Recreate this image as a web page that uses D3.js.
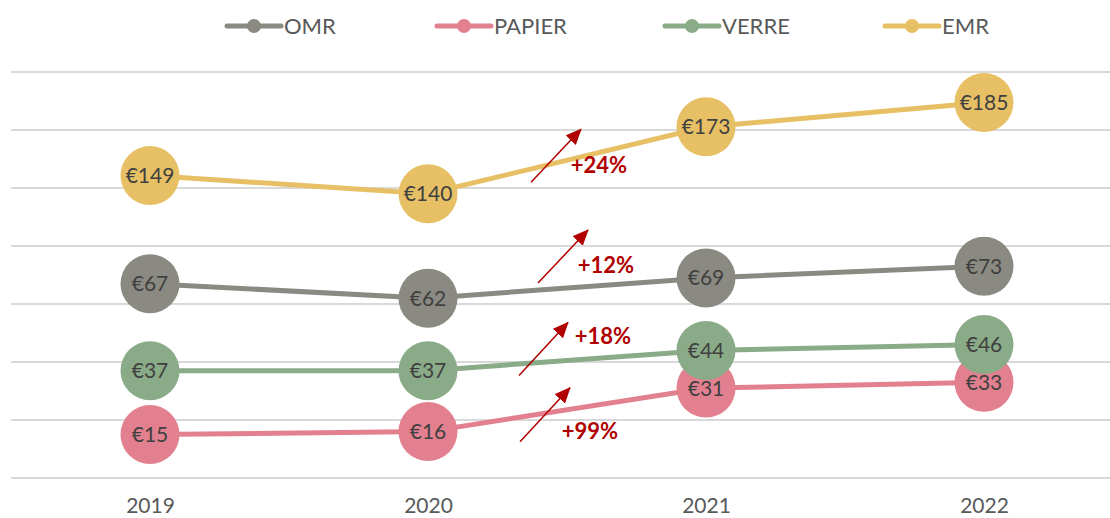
<!DOCTYPE html>
<html lang="fr">
<head>
<meta charset="UTF-8">
<title>Coût par habitant</title>
<script src="https://cdn.jsdelivr.net/npm/d3@7"></script>
<style>
  body { margin: 0; background: #fff; }
  svg { display: block; font-family: Lato, "Open Sans", sans-serif; }
</style>
</head>
<body>
<div id="chart"></div>
<script>

// data
var years = ["2019", "2020", "2021", "2022"];
var seriesNames = ["OMR", "PAPIER", "VERRE", "EMR"];
var omr = [67, 62, 69, 73];
var papier = [15, 16, 31, 33];
var verre = [37, 37, 44, 46];
var emr = [149, 140, 173, 185];   // EMR sits on the (hidden) secondary axis
var gridTicks = [0, 20, 40, 60, 80, 100, 120, 140];
var growthLabels = ["+24%", "+12%", "+18%", "+99%"];
var growthSeries = ["EMR", "OMR", "VERRE", "PAPIER"];

var w = 1110, h = 518;
var colors = { OMR: "#8a8a82", PAPIER: "#e3808f", VERRE: "#8aab88", EMR: "#e7c065" };
var values = { OMR: omr, PAPIER: papier, VERRE: verre, EMR: emr };

var svg = d3.select("#chart").append("svg")
  .attr("width", w)
  .attr("height", h);

// scales
var x = d3.scalePoint().domain(years).range([11, 1123]).padding(0.5);
var y = d3.scaleLinear().domain([0, 140]).range([478, 72]);
var y2 = d3.scaleLinear().domain([0, 200]).range([478, 72]);
function yFor(name) { return name === "EMR" ? y2 : y; }

// gridlines
svg.append("g").selectAll("line")
  .data(gridTicks)
  .enter().append("line")
  .attr("x1", 11).attr("x2", 1123)
  .attr("y1", function(d) { return y(d); })
  .attr("y2", function(d) { return y(d); })
  .attr("stroke", "#d9d9d9")
  .attr("stroke-width", 2);

// x axis labels
var xAxis = d3.axisBottom(x).tickSize(0).tickPadding(0);
var gx = svg.append("g").attr("transform", "translate(0,498)").call(xAxis);
gx.select(".domain").remove();
gx.selectAll("text")
  .attr("font-size", 21)
  .attr("fill", "#595959")
  .attr("font-family", "Lato, sans-serif")
  .attr("dy", "0.35em")
  .attr("y", 8);

// lines
var line = function(name) {
  var ys = yFor(name);
  return d3.line()
    .x(function(d, i) { return x(years[i]); })
    .y(function(d) { return ys(d); });
};

svg.append("g").selectAll("path")
  .data(seriesNames)
  .enter().append("path")
  .attr("d", function(n) { return line(n)(values[n]); })
  .attr("fill", "none")
  .attr("stroke", function(n) { return colors[n]; })
  .attr("stroke-width", 5);

// markers
var pts = [];
seriesNames.forEach(function(n) {
  values[n].forEach(function(v, i) { pts.push({ name: n, year: years[i], v: v }); });
});

svg.append("g").selectAll("circle")
  .data(pts)
  .enter().append("circle")
  .attr("cx", function(d) { return x(d.year); })
  .attr("cy", function(d) { return yFor(d.name)(d.v); })
  .attr("r", 29.5)
  .attr("fill", function(d) { return colors[d.name]; });

svg.append("g").selectAll("text")
  .data(pts)
  .enter().append("text")
  .attr("x", function(d) { return x(d.year); })
  .attr("y", function(d) { return yFor(d.name)(d.v); })
  .attr("dy", "0.36em")
  .attr("text-anchor", "middle")
  .attr("font-size", 21)
  .attr("fill", "#404040")
  .text(function(d) { return "€" + d.v; });

// legend
var legendX = [254, 464, 692, 912];
var leg = svg.append("g").selectAll("g")
  .data(seriesNames)
  .enter().append("g")
  .attr("transform", function(d, i) { return "translate(" + legendX[i] + ",26)"; });
leg.append("line")
  .attr("x1", -27).attr("x2", 27)
  .attr("stroke", function(d) { return colors[d]; })
  .attr("stroke-width", 5)
  .attr("stroke-linecap", "round");
leg.append("circle")
  .attr("r", 7)
  .attr("fill", function(d) { return colors[d]; });
leg.append("text")
  .attr("x", 30)
  .attr("dy", "0.36em")
  .attr("font-size", 22)
  .attr("fill", "#595959")
  .text(function(d) { return d; });

// growth arrows, anchored on the 2020-2021 segment of each series
var defs = svg.append("defs");
defs.append("marker")
  .attr("id", "head")
  .attr("markerUnits", "userSpaceOnUse")
  .attr("viewBox", "0 -7 16 14")
  .attr("refX", 15).attr("refY", 0)
  .attr("markerWidth", 16).attr("markerHeight", 14)
  .attr("orient", "auto")
  .append("path")
  .attr("d", "M0,-7L16,0L0,7Z")
  .attr("fill", "#b00000");

// offsets from segment midpoint: tail, tip, label
var annoLayout = {
  EMR:    { t: [-36, 22], h: [14, -31], l: [32, 5] },
  OMR:    { t: [-29, -5], h: [21, -58], l: [39, -23] },
  VERRE:  { t: [-48, 15], h: [1, -38],  l: [36, -24] },
  PAPIER: { t: [-47, 32], h: [3, -22],  l: [23, 21] }
};

var mx = (x("2020") + x("2021")) / 2;
growthSeries.forEach(function(n, i) {
  var ys = yFor(n);
  var my = (ys(values[n][1]) + ys(values[n][2])) / 2;
  var L = annoLayout[n];
  svg.append("line")
    .attr("x1", mx + L.t[0]).attr("y1", my + L.t[1])
    .attr("x2", mx + L.h[0]).attr("y2", my + L.h[1])
    .attr("stroke", "#b00000")
    .attr("stroke-width", 1.5)
    .attr("marker-end", "url(#head)");
  svg.append("text")
    .attr("x", mx + L.l[0]).attr("y", my + L.l[1])
    .attr("dy", "0.36em")
    .attr("text-anchor", "middle")
    .attr("font-size", 22)
    .attr("font-weight", "bold")
    .attr("fill", "#b00000")
    .text(growthLabels[i]);
});

</script>
</body>
</html>
